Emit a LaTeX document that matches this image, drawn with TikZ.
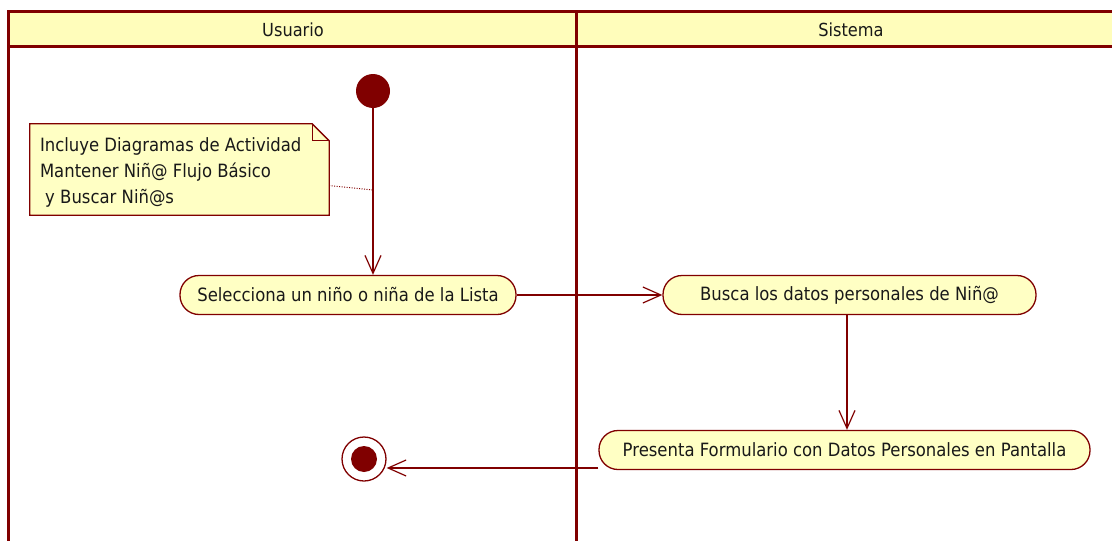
\documentclass[tikz,border=0pt]{standalone}
\usepackage{fontspec}
\setmainfont{DejaVu Sans}[FakeStretch=0.9]
\usetikzlibrary{arrows.meta,calc}
\definecolor{umlred}{HTML}{800000}
\definecolor{umlyellow}{HTML}{FFFFC4}
\definecolor{hdryellow}{HTML}{FFFDBB}
\tikzset{
  lane/.style={draw=umlred, line width=3pt},
  lanehead/.style={font=\fontsize{18}{21}\selectfont, text=black!90, inner sep=0pt},
  actbox/.style={draw=umlred, fill=umlyellow, line width=1.3pt, rounded corners=19pt,
    minimum height=39pt, inner sep=0pt, font=\fontsize{18.3}{21}\selectfont, text=black!90},
  flow/.style={draw=umlred, line width=1.2pt, -{Straight Barb[length=18pt,width=16pt,line width=1.2pt]}},
  startnode/.style={circle, fill=umlred, minimum size=34pt, inner sep=0pt},
  endouter/.style={circle, draw=umlred, fill=white, line width=1.3pt, minimum size=44pt, inner sep=0pt},
  endinner/.style={circle, fill=umlred, minimum size=26pt, inner sep=0pt},
  notebox/.style={draw=umlred, fill=umlyellow, line width=1.3pt},
  notetext/.style={font=\fontsize{18.3}{26}\selectfont, text=black!90, align=left, inner sep=0pt},
}
\begin{document}
\begin{tikzpicture}[x=1pt,y=-1pt]
\useasboundingbox (0,0) rectangle (1112,541);
% swimlanes
\fill[hdryellow] (8,11) rectangle (1116,46);
\draw[lane] (1116,11) -- (8,11) -- (8,545);
\draw[lane] (8,46) -- (1116,46);
\draw[lane] (576,11) -- (576,545);
\node[lanehead] (usuario) at (293,30) {Usuario};
\node[lanehead] (sistema) at (851,30) {Sistema};
% initial
\node[startnode] (start) at (373,91) {};
% note
\node[minimum width=299pt, minimum height=91pt, inner sep=0pt] (note) at (179.5,169.5) {};
\draw[notebox] (note.north west) -- ($(note.north east)+(-17,0)$) -- ($(note.north east)+(0,17)$)
  -- (note.south east) -- (note.south west) -- cycle;
\draw[draw=umlred, line width=1.1pt] ($(note.north east)+(-17,0)$) -- ($(note.north east)+(-17,17)$) -- ($(note.north east)+(0,17)$);
\node[notetext, anchor=north west] (ntext) at ($(note.north west)+(10,14)$)
  {Incluye Diagramas de Actividad\\Mantener Niñ@ Flujo Básico\\\mbox{ }y Buscar Niñ@s};
% actions
\node[actbox, minimum width=336pt] (sel) at (348,295) {Selecciona un niño o niña de la Lista};
\node[actbox, minimum width=373pt] (busca) at (849.5,295) {Busca los datos personales de Niñ@};
\node[actbox, minimum width=491pt] (pres) at (844.5,450) {Presenta Formulario con Datos Personales en Pantalla};
% final
\node[endouter] (fin) at (364,459) {};
\node[endinner] (fininner) at (fin.center) {};
% connectors
\draw[flow] (start) -- (start |- sel.north);
\coordinate (dotend) at (373,190);
\draw[umlred, line width=1pt, dash pattern=on 1pt off 1.5pt] ($(note.east)+(0,16)$) -- (dotend);
\draw[flow] (sel.east) -- (busca.west);
\draw[flow] (847,314) coordinate (bsrc) -- (bsrc |- pres.north);
\coordinate (psrc) at ($(pres.west)+(0,18)$);
\draw[flow] (psrc) -- (psrc -| fin.east);
\end{tikzpicture}
\end{document}
